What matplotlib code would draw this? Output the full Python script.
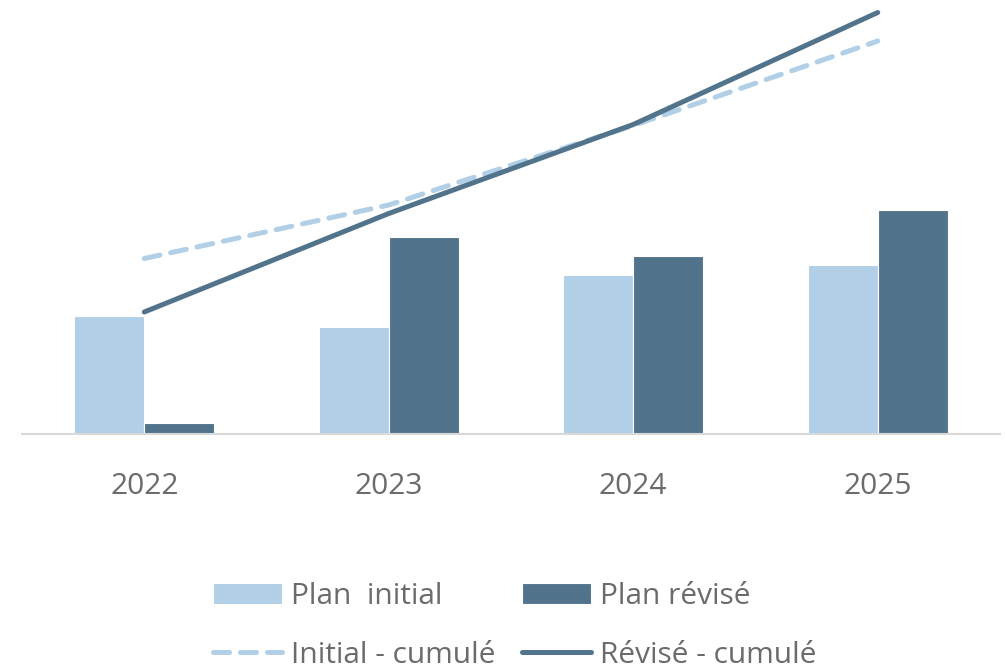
import matplotlib.pyplot as plt
import numpy as np

plt.rcParams['font.family'] = ['Open Sans', 'DejaVu Sans']

years = ["2022", "2023", "2024", "2025"]
plan_initial = [118, 107, 159, 169]
plan_revise = [11, 197, 178, 224]
cum_initial = np.cumsum(plan_initial)
cum_revise = np.cumsum(plan_revise)

light = "#B1CFE6"
dark = "#52738C"
grey = "#6B6B6B"

fig = plt.figure(figsize=(10.05, 6.68), dpi=100)
ax = fig.add_axes([22/1005, 1 - 434/668, 978/1005, 429/668])
x = np.arange(len(years))
w = 0.286

b1 = ax.bar(x - w/2, plan_initial, w, color=light, edgecolor="white", linewidth=0.8)
b2 = ax.bar(x + w/2, plan_revise, w, color=dark, edgecolor="white", linewidth=0.8)
ax.set_xlim(-0.5, 3.5)
ax.set_ylim(0, 429)

ax2 = ax.twinx()
l1, = ax2.plot(x, cum_initial, color=light, lw=3.6, ls=(0, (3.2, 2.2)),
               dash_capstyle="round", solid_capstyle="round")
l2, = ax2.plot(x, cum_revise, color=dark, lw=3.6, solid_capstyle="round")
ax2.set_ylim(-233, 625)

for a in (ax, ax2):
    for s in a.spines.values():
        s.set_visible(False)
    a.set_yticks([])
ax.spines['bottom'].set_visible(True)
ax.spines['bottom'].set_color("#D9D9D9")
ax.spines['bottom'].set_linewidth(1.5)
ax.set_xticks(x)
ax.set_xticklabels(years, fontsize=21.5, color=grey)
ax.tick_params(axis='x', length=0, pad=27)

# ncol=2 fills by column, so order is col1 then col2
fig.legend([b1, l1, b2, l2], ["Plan  initial", "Initial - cumulé", "Plan révisé", "Révisé - cumulé"],
           ncol=2, loc="center", bbox_to_anchor=(0.512, 0.063), frameon=False,
           fontsize=21.5, labelcolor=grey, handlelength=2.3, handletextpad=0.3,
           columnspacing=0.9, labelspacing=1.0)

fig.savefig("out.png", dpi=100)
